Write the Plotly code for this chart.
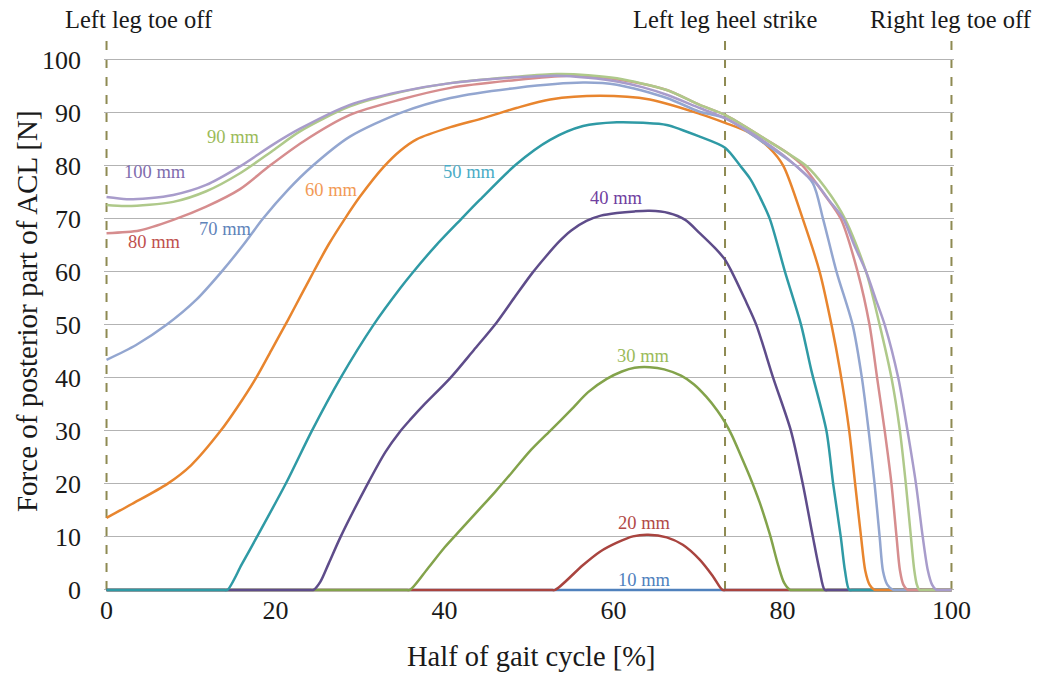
import plotly.graph_objects as go

# ---------------- data ----------------
series_names = ["10 mm", "20 mm", "30 mm", "40 mm", "50 mm",
                "60 mm", "70 mm", "80 mm", "90 mm", "100 mm"]

x_10 = [0, 100]
y_10 = [0, 0]

x_20 = [0, 52.5, 53.1, 56.4, 58.4, 60.4, 62.3, 64.1, 66.3, 68.2, 70.2, 71.8, 72.9, 73.5, 100]
y_20 = [0, 0, 0, 4.7, 7.2, 8.9, 10.1, 10.4, 9.9, 8.5, 5.7, 2.5, 0, 0, 0]

x_30 = [0, 35.3, 35.9, 38, 40, 42, 44, 46, 48, 50, 52.5, 55, 57, 59.2, 61, 62.5, 64.3, 66, 68,
        69.5, 71, 72.3, 73.2, 74, 75, 76.1, 77.3, 78.5, 79.5, 80.2, 80.9, 81.5, 100]
y_30 = [0, 0, 0, 4, 8, 11.5, 15, 18.5, 22.2, 26, 30, 34, 37.3, 39.8, 41.2, 41.9, 42, 41.6, 40.4,
        38.8, 36.4, 33.8, 31.6, 29.2, 25.6, 21.5, 16.5, 10.5, 4.6, 1.3, 0, 0, 0]

x_40 = [0, 23.9, 24.5, 25.3, 26.3, 27.7, 30.9, 33, 34.7, 36, 37.5, 40.7, 43.5, 46.2, 48.3, 50.4,
        52, 53.5, 55, 56.8, 58.5, 60.4, 62.5, 64.3, 66.5, 68.5, 70.2, 72, 73.2, 74, 75.5, 76.9,
        78.9, 81.0, 82.4, 83.6, 84.4, 85.0, 85.6, 100]
y_40 = [0, 0, 0, 1.5, 5, 10, 20, 26, 29.8, 32.2, 34.8, 40, 45.3, 50.5, 55.2, 59.8,
        62.9, 65.6, 67.8, 69.6, 70.6, 71.1, 71.4, 71.5, 71.1, 69.8, 67.3, 64.5, 62.3, 60, 55, 50,
        40, 30, 20, 10, 3.6, 0, 0, 0]

x_50 = [0, 13.7, 14.3, 16, 17.8, 21.3, 24.3, 27.7, 31.6, 34.8, 36.1, 39, 42, 44.2, 48.5, 52.5,
        56.4, 60.4, 63.5, 66.3, 70.2, 73.2, 75, 76.2, 77.3, 78.5, 80.3, 82.2, 83.4, 85.2,
        86.0, 86.9, 87.4, 87.9, 88.5, 100]
y_50 = [0, 0, 0, 4.8, 10, 20.3, 30, 40, 50, 57, 59.6, 65, 70, 73.6, 80.3, 84.9,
        87.5, 88.2, 88.1, 87.7, 85.5, 83.4, 80, 77.5, 74.2, 70, 60, 50, 41.5, 30,
        20, 10, 3.6, 0, 0, 0]

x_60 = [0, 3, 7.2, 10, 13.5, 15.5, 17.7, 19.5, 21.5, 23, 24.6, 26.3, 28.2, 30, 32.8,
        34.8, 36.7, 40.7, 44.6, 48.5, 52.5, 58.4, 64.3, 70.2, 73.2, 76, 78.5, 80.1,
        82.4, 84.4, 85.8, 86.8, 87.9, 88.6, 89.3, 89.8, 90.3, 90.9, 91.5, 100]
y_60 = [13.6, 16.2, 20, 23.5, 30, 34.5, 40, 45.2, 51, 55.5, 60.3, 65.2, 70, 74.2, 79.8,
        82.9, 85, 87.3, 89.0, 90.9, 92.5, 93.2, 92.5, 89.8, 88.1, 86.3, 83.3, 80,
        70, 60, 50, 41.5, 30, 20, 10, 3.6, 1, 0, 0, 0]

x_70 = [0, 3.5, 7.1, 10.6, 13.6, 16.2, 18.5, 21.5, 24.4, 28.8, 34.8, 40.7, 48.5, 56.4,
        60.4, 66.3, 70.2, 73.2, 78.1, 81.6, 83.6, 84.8, 86.4, 88.3, 89.4, 90.2, 90.9,
        91.5, 91.9, 92.4, 93.1, 93.7, 100]
y_70 = [43.4, 46.2, 50, 54.7, 60, 65.1, 70, 75.5, 80, 85.5, 90, 92.8, 94.7, 95.7,
        95.3, 92.8, 90.2, 89, 84, 80, 76.7, 70, 60, 50, 40, 30, 20,
        10, 3.5, 1, 0, 0, 0]

x_80 = [0, 3.9, 7.9, 11.8, 15.8, 19.3, 23.3, 28.8, 34.8, 40.7, 48.5, 54.5, 58, 62,
        66.3, 70.2, 73.2, 78.1, 80.5, 82.4, 85, 86.9, 88.9, 90.3, 91.2, 92.1, 92.9,
        93.5, 93.9, 94.3, 94.8, 95.4, 100]
y_80 = [67.3, 67.8, 69.8, 72.3, 75.6, 80, 84.6, 89.6, 92.5, 94.7, 96.2, 97.0, 96.8, 95.9,
        94.3, 91.5, 89.6, 84.9, 82.5, 80, 74.5, 70, 60, 50, 40, 30, 20,
        10, 3.7, 1, 0, 0, 0]

x_90 = [0, 2.4, 7.9, 11.8, 15.8, 19.7, 22.9, 28.8, 34.8, 40.7, 48.5, 53.3, 57, 60.4,
        66.3, 70.2, 73.2, 78.1, 80.5, 82.8, 85, 87.4, 89.9, 91.5, 92.9, 93.9, 94.6,
        95.2, 95.6, 95.9, 96.2, 96.8, 100]
y_90 = [72.6, 72.4, 73.2, 75.2, 78.6, 82.9, 86.5, 91.2, 93.9, 95.6, 96.8, 97.3, 97.1, 96.5,
        94.3, 91.5, 89.6, 84.9, 82.5, 80, 76, 70, 60, 50, 40, 30, 20,
        10, 3.7, 1, 0, 0, 0]

x_100 = [0, 2.4, 5, 7.9, 11.8, 15.8, 19.7, 22.9, 28.8, 34.8, 40.7, 48.5, 53.3, 57, 60.4,
         63.5, 66.3, 70.2, 73.2, 76, 78.1, 80.5, 83.0, 84.0, 85.5, 87.2, 88.5, 89.9, 91,
         92.1, 93.7, 94.8, 95.8, 96.6, 97.2, 97.7, 98.2, 98.8, 100]
y_100 = [74.1, 73.7, 73.9, 74.5, 76.4, 79.9, 84.0, 87.0, 91.5, 94.0, 95.6, 96.7, 97.0, 96.6, 95.9,
         94.8, 93.4, 90.9, 89.0, 86.5, 84.3, 81.5, 78.0, 76.7, 73.5, 70, 65, 60, 55,
         50, 40, 30, 20, 10, 3.7, 1, 0, 0, 0]

xs = [x_10, x_20, x_30, x_40, x_50, x_60, x_70, x_80, x_90, x_100]
ys = [y_10, y_20, y_30, y_40, y_50, y_60, y_70, y_80, y_90, y_100]

# label anchor points (data coords) for the in-plot series labels
label_x = [63.7, 63.7, 63.5, 60.4, 42.9, 26.6, 14.1, 5.7, 15.0, 5.75]
label_y = [1.9, 12.6, 44.2, 73.9, 78.9, 75.5, 68.0, 65.7, 85.5, 78.8]

event_names = ["Left leg toe off", "Left leg heel strike", "Right leg toe off"]
event_x = [0, 73.2, 100]

x_ticks = [0, 20, 40, 60, 80, 100]
y_ticks = [0, 10, 20, 30, 40, 50, 60, 70, 80, 90, 100]

x_title = "Half of gait cycle [%]"
y_title = "Force of posterior part of ACL [N]"

# ---------------- styles ----------------
line_colors = ["#4F81BD", "#A9443F", "#83A34B", "#5E4C8A", "#2F9AA5",
               "#E8852E", "#93A6D0", "#D68D8E", "#AFC98A", "#A89CCB"]
label_colors = ["#4F81BD", "#B24A47", "#9BBB59", "#7040A0", "#4BACC6",
                "#F29A55", "#5F84BA", "#C0504D", "#9BBB59", "#7F6DAD"]
FONT = "Liberation Serif"
TXT = "#1a1a1a"
Y_TOP = 104.3

fig = go.Figure()
for name, x, y, c in zip(series_names, xs, ys, line_colors):
    fig.add_trace(go.Scatter(x=x, y=y, mode="lines", name=name,
                             line=dict(color=c, width=2.5, shape="spline", smoothing=0.8),
                             showlegend=False))

for name, lx, ly, c in zip(series_names, label_x, label_y, label_colors):
    fig.add_annotation(x=lx, y=ly, text=name, showarrow=False,
                       font=dict(family=FONT, size=18.5, color=c),
                       xanchor="center", yanchor="middle")

for ex in event_x:
    fig.add_shape(type="line", x0=ex, x1=ex, y0=0, y1=Y_TOP, xref="x", yref="y",
                  line=dict(color="#8E8A52", width=2, dash="dash"), layer="below")

event_label_x = [3.85, 73.2, 100]
for name, ex in zip(event_names, event_label_x):
    fig.add_annotation(x=ex, y=1.031, xref="x", yref="paper", text=name,
                       showarrow=False, xanchor="center", yanchor="middle",
                       font=dict(family=FONT, size=24.5, color=TXT))

# axis titles as annotations for exact placement
fig.add_annotation(x=-0.0898, y=0.5057, xref="paper", yref="paper",
                   text=y_title, textangle=-90, showarrow=False,
                   xanchor="center", yanchor="middle",
                   font=dict(family=FONT, size=29, color=TXT))
fig.add_annotation(x=0.5023, y=-0.1169, xref="paper", yref="paper",
                   text=x_title, showarrow=False,
                   xanchor="center", yanchor="middle",
                   font=dict(family=FONT, size=28.5, color=TXT))

fig.update_layout(
    width=1038, height=675,
    margin=dict(l=103.5, r=83.5, t=37.2, b=82.9, autoexpand=False),
    paper_bgcolor="white", plot_bgcolor="white",
    font=dict(family=FONT, color=TXT),
    xaxis=dict(range=[-0.3, 100.3], tickvals=x_ticks, showgrid=False, zeroline=False,
               showline=False, ticks="", automargin=False,
               tickfont=dict(family=FONT, size=26, color=TXT)),
    yaxis=dict(range=[-0.4, Y_TOP], tickvals=y_ticks, showgrid=True, gridcolor="#B3B3B3",
               gridwidth=1, zeroline=False, showline=False, ticks="", automargin=False,
               tickfont=dict(family=FONT, size=26, color=TXT), ticklabelstandoff=22),
)

fig.write_html("out.html",
               config={"displayModeBar": False},
               post_script="document.body.style.margin='0';document.body.style.padding='0';")
